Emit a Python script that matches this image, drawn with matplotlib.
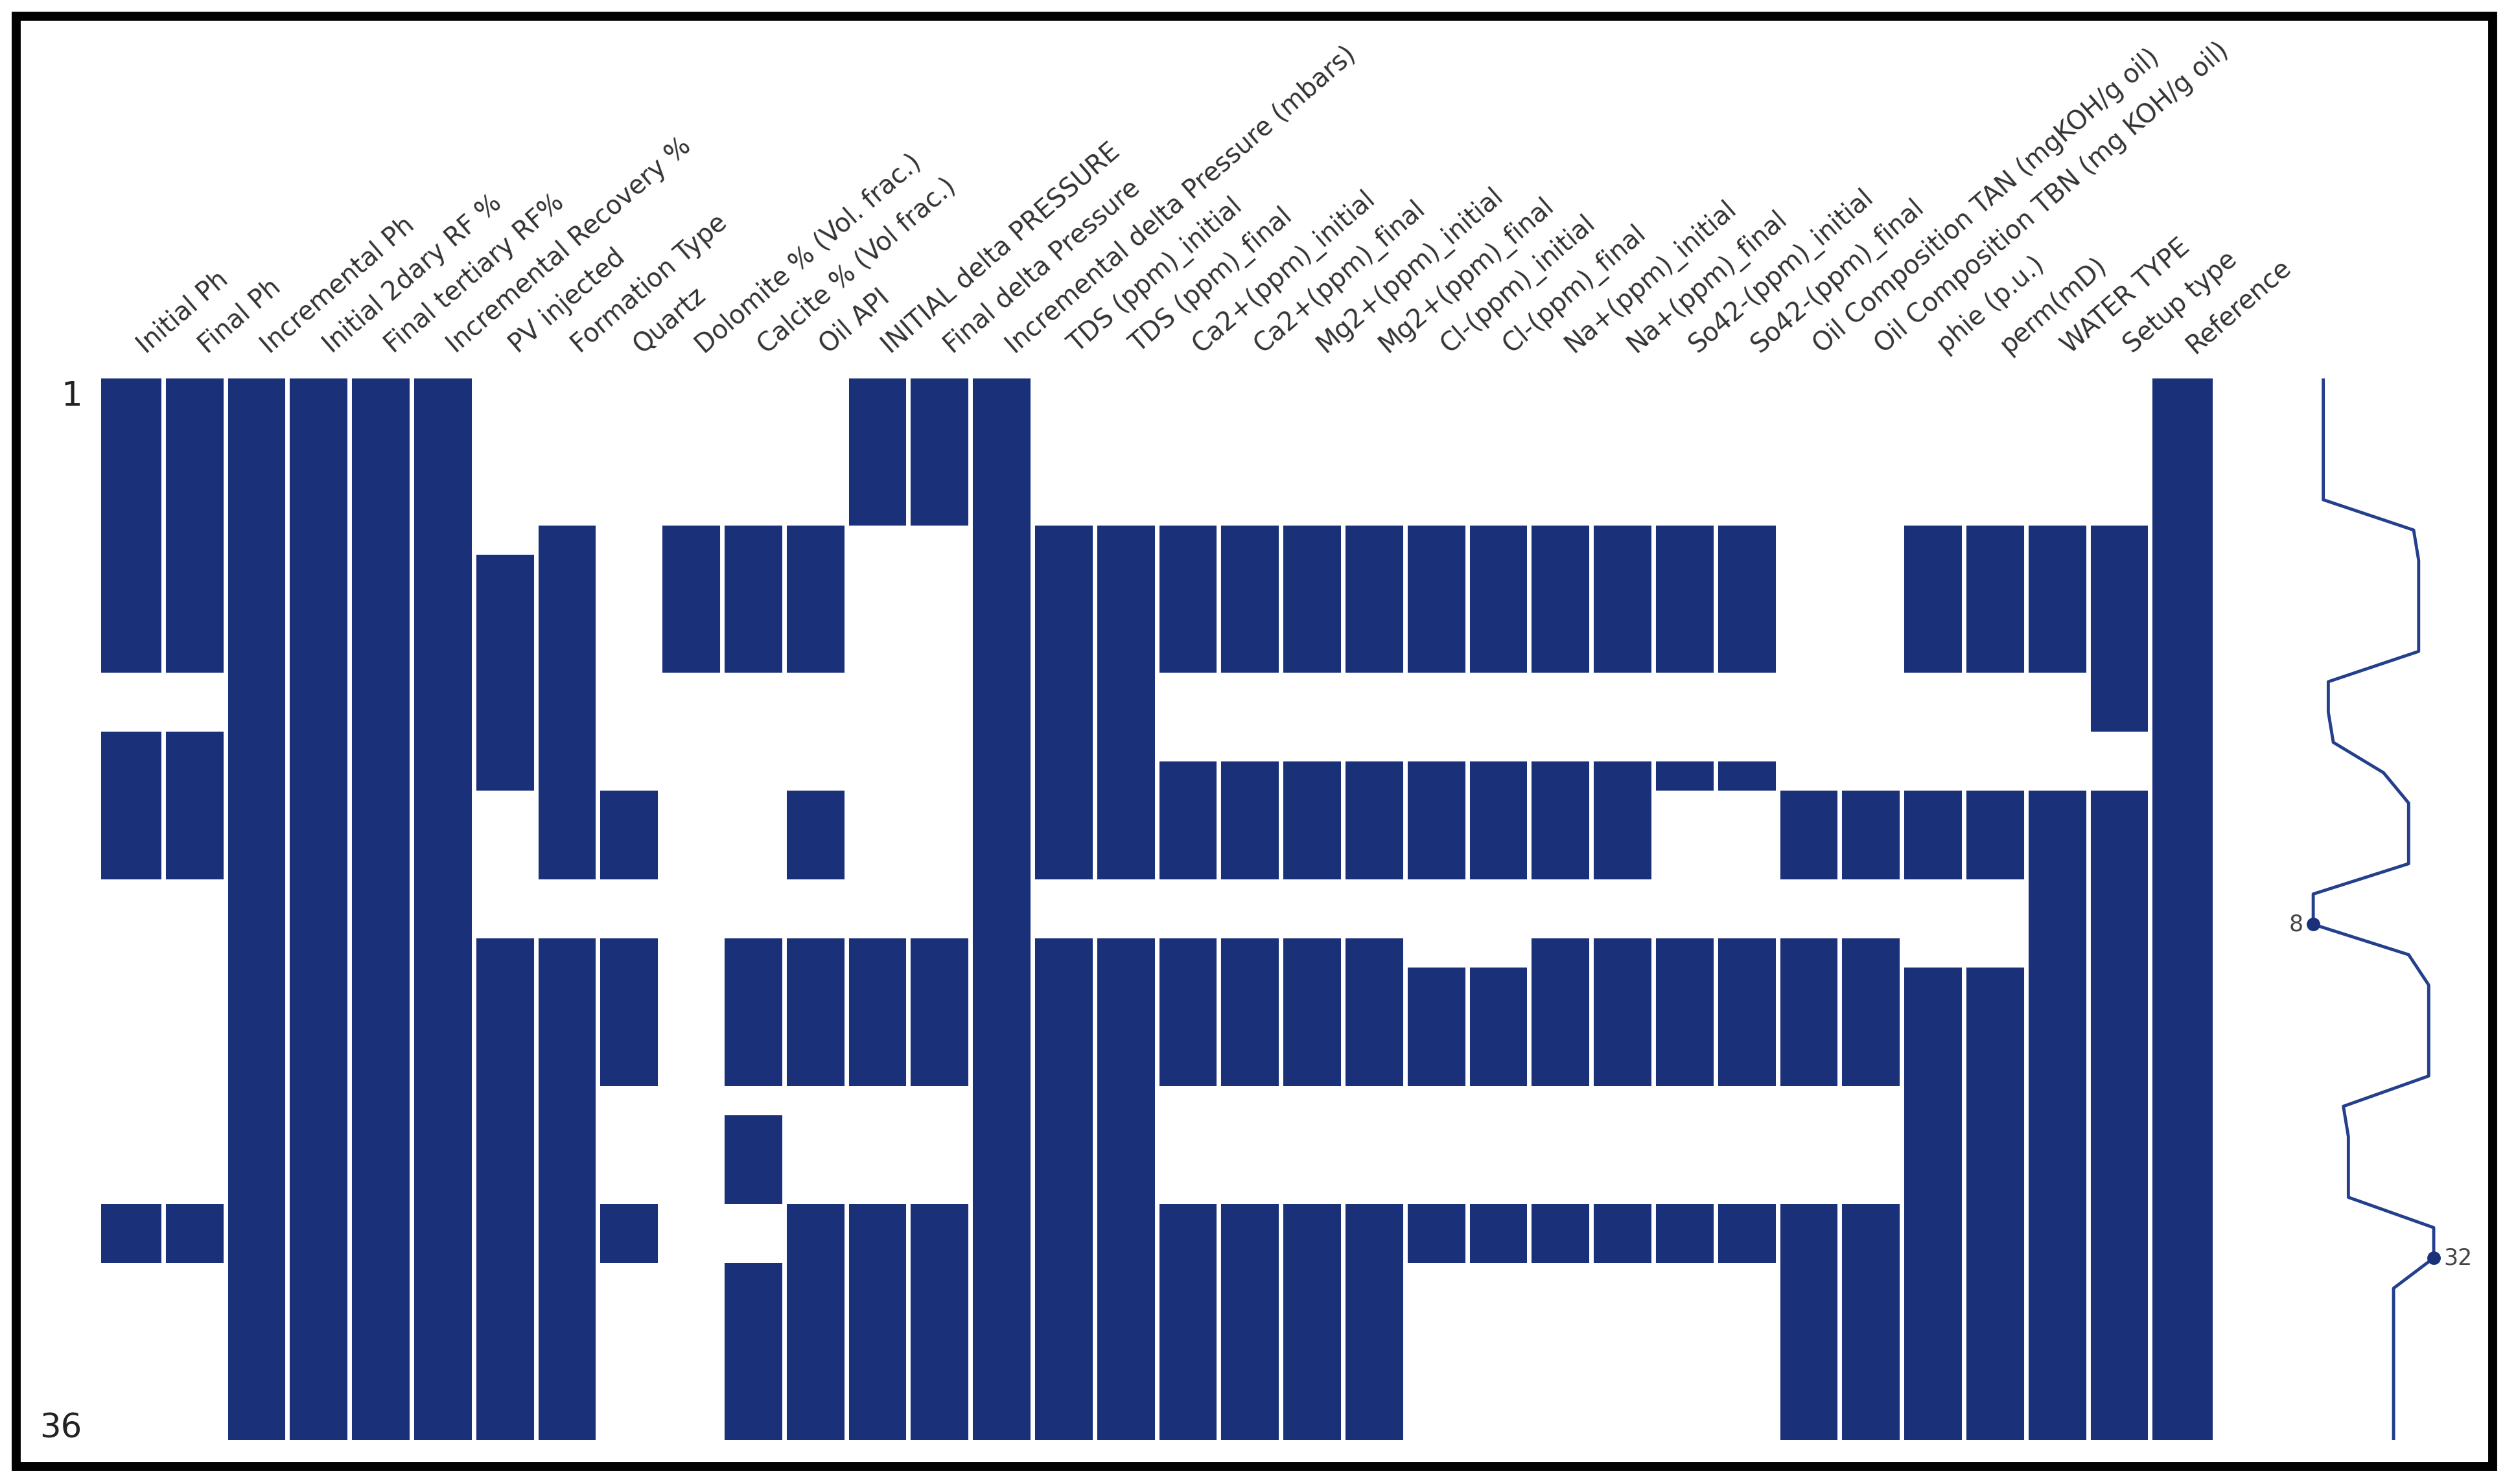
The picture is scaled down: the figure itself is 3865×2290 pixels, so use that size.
import numpy as np
import matplotlib
matplotlib.use("Agg")
import matplotlib.pyplot as plt
from matplotlib.patches import Rectangle
from matplotlib.colors import to_rgb

n_rows = 36

columns = ["Initial Ph", "Final Ph", "Incremental Ph", "Initial 2dary RF %",
           "Final tertiary RF%", "Incremental Recovery %", "PV injected",
           "Formation Type", "Quartz", "Dolomite % (Vol. frac.)",
           "Calcite % (Vol frac.)", "Oil API", "INITIAL delta PRESSURE",
           "Final delta Pressure", "Incremental delta Pressure (mbars)",
           "TDS (ppm)_initial", "TDS (ppm)_final", "Ca2+(ppm)_initial",
           "Ca2+(ppm)_final", "Mg2+(ppm)_initial", "Mg2+(ppm)_final",
           "Cl-(ppm)_initial", "Cl-(ppm)_final", "Na+(ppm)_initial",
           "Na+(ppm)_final", "So42-(ppm)_initial", "So42-(ppm)_final",
           "Oil Composition TAN (mgKOH/g oil)", "Oil Composition TBN (mg KOH/g oil)",
           "phie (p.u.)", "perm(mD)", "WATER TYPE", "Setup type", "Reference"]

# rows (1-based, inclusive) where each column has a value
present = [
    [(1, 10), (13, 17), (29, 30)],
    [(1, 10), (13, 17), (29, 30)],
    [(1, 36)],
    [(1, 36)],
    [(1, 36)],
    [(1, 36)],
    [(7, 14), (20, 36)],
    [(6, 17), (20, 36)],
    [(15, 17), (20, 24), (29, 30)],
    [(6, 10)],
    [(6, 10), (20, 24), (26, 28), (31, 36)],
    [(6, 10), (15, 17), (20, 24), (29, 36)],
    [(1, 5), (20, 24), (29, 36)],
    [(1, 5), (20, 24), (29, 36)],
    [(1, 36)],
    [(6, 17), (20, 36)],
    [(6, 17), (20, 36)],
    [(6, 10), (14, 17), (20, 24), (29, 36)],
    [(6, 10), (14, 17), (20, 24), (29, 36)],
    [(6, 10), (14, 17), (20, 24), (29, 36)],
    [(6, 10), (14, 17), (20, 24), (29, 36)],
    [(6, 10), (14, 17), (21, 24), (29, 30)],
    [(6, 10), (14, 17), (21, 24), (29, 30)],
    [(6, 10), (14, 17), (20, 24), (29, 30)],
    [(6, 10), (14, 17), (20, 24), (29, 30)],
    [(6, 10), (14, 14), (20, 24), (29, 30)],
    [(6, 10), (14, 14), (20, 24), (29, 30)],
    [(15, 17), (20, 24), (29, 36)],
    [(15, 17), (20, 24), (29, 36)],
    [(6, 10), (15, 17), (21, 36)],
    [(6, 10), (15, 17), (21, 36)],
    [(6, 10), (15, 36)],
    [(6, 12), (15, 36)],
    [(1, 36)],
]

color = "#1a3179"
spark_color = "#243f8c"

mask = np.zeros((n_rows, len(columns)), dtype=bool)
for j, spans in enumerate(present):
    for a, b in spans:
        mask[a - 1:b, j] = True

fig = plt.figure(figsize=(38.66, 22.90), dpi=100)

# nullity matrix
ax0 = fig.add_axes([0.04035, 0.0297, 0.8425, 0.7153])
g = np.ones((n_rows, len(columns), 3))
g[mask] = to_rgb(color)
ax0.imshow(g, interpolation="none", aspect="auto")
for x in range(len(columns) - 1):
    ax0.axvline(x + 0.5, color="white", lw=5)
ax0.xaxis.tick_top()
ax0.set_xticks(range(len(columns)))
ax0.set_xticklabels(columns, rotation=41, ha="left", fontsize=28.5, color="#333333")
ax0.set_yticks([0, n_rows - 1])
ax0.set_yticklabels([1, n_rows], fontsize=37, color="#222222")
ax0.tick_params(axis="x", length=0, pad=22)
ax0.tick_params(axis="y", length=0, pad=21)
for s in ax0.spines.values():
    s.set_visible(False)

# sparkline of row completeness
counts = mask.sum(axis=1)
rows = np.arange(n_rows)
ax1 = fig.add_axes([0.9192, 0.0297, 0.0561, 0.7153])
ax1.plot(counts, rows, color=spark_color, lw=3.5)
cmin, cmax = counts.min(), counts.max()
imin = n_rows - 1 - list(counts[::-1]).index(cmin)
imax = n_rows - 1 - list(counts[::-1]).index(cmax)
ax1.plot([cmin], [imin], "o", color=color, ms=14)
ax1.plot([cmax], [imax], "o", color=color, ms=14)
ax1.annotate(str(cmin), xy=(cmin, imin), xytext=(cmin - 2, imin),
             fontsize=25, va="center", ha="right", color="#444444")
ax1.annotate(str(cmax), xy=(cmax, imax), xytext=(cmax + 2, imax),
             fontsize=25, va="center", ha="left", color="#444444")
ax1.set_xlim(cmin - 2, cmax + 2)
ax1.set_ylim(n_rows - 1, 0)
ax1.set_xticks([])
ax1.set_yticks([])
for s in ax1.spines.values():
    s.set_visible(False)

# black frame around the picture
fig.patches.append(Rectangle((0.00647, 0.01179), 0.98836, 0.97729,
                             transform=fig.transFigure, fill=False,
                             lw=10, edgecolor="black"))

fig.savefig("out.png", dpi=100)
